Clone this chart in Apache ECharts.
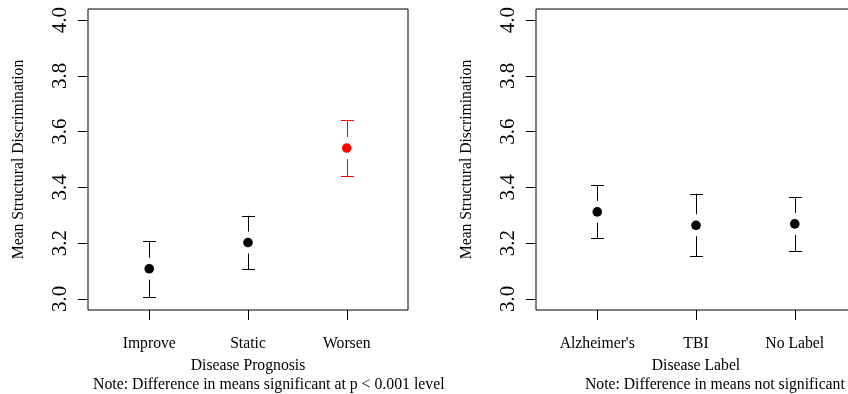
<!DOCTYPE html>
<html>
<head>
<meta charset="utf-8">
<script src="https://cdn.jsdelivr.net/npm/echarts@6/dist/echarts.min.js"></script>
<style>
html,body{margin:0;padding:0;background:#fff;}
#chart{width:848px;height:394px;}
</style>
</head>
<body>
<div id="chart"></div>
<script>
// ---- data ----
const leftCategories = ['Improve', 'Static', 'Worsen'];
const leftMeans = [3.108, 3.202, 3.541];
const leftLower = [3.007, 3.107, 3.440];
const leftUpper = [3.208, 3.298, 3.640];

const rightCategories = ["Alzheimer's", 'TBI', 'No Label'];
const rightMeans = [3.312, 3.264, 3.269];
const rightLower = [3.218, 3.153, 3.172];
const rightUpper = [3.408, 3.377, 3.365];

const yTicks = [3.0, 3.2, 3.4, 3.6, 3.8, 4.0];

const leftXTitle = 'Disease Prognosis';
const rightXTitle = 'Disease Label';
const yTitle = 'Mean Structural Discrimination';
const leftNote = 'Note: Difference in means significant at p < 0.001 level';
const rightNote = 'Note: Difference in means not significant';

// ---- styles ----
const FONT = '"Liberation Serif", "Times New Roman", serif';
const FS = 15.7;
const leftColors = ['#000000', '#000000', '#ff0000'];
const rightColors = ['#000000', '#000000', '#000000'];

const chart = echarts.init(document.getElementById('chart'), null, {renderer: 'canvas'});

function xAxisFor(gridIndex, cats, title) {
  return {
    type: 'value', gridIndex: gridIndex, min: 0.38, max: 3.62,
    splitLine: {show: false},
    axisLine: {show: false},
    axisTick: {show: true, inside: false, length: 10, customValues: cats.map((c, i) => i + 1),
      lineStyle: {color: '#000', width: 1}},
    axisLabel: {show: true, customValues: cats.map((c, i) => i + 1), margin: 26,
      color: '#000', fontFamily: FONT, fontSize: FS,
      formatter: v => cats[Math.round(v) - 1] || ''},
    name: title, nameLocation: 'middle', nameGap: 48,
    nameTextStyle: {color: '#000', fontFamily: FONT, fontSize: FS}
  };
}
function yAxisFor(gridIndex) {
  return {
    type: 'value', gridIndex: gridIndex, min: 2.96, max: 4.04,
    splitLine: {show: false},
    axisLine: {show: false},
    axisTick: {show: true, length: 10, customValues: yTicks, lineStyle: {color: '#000', width: 1}},
    axisLabel: {show: true, customValues: yTicks, rotate: 90, margin: 17,
      color: '#000', fontFamily: FONT, fontSize: 21,
      formatter: v => Number(v).toFixed(1)},
    name: yTitle, nameLocation: 'middle', nameRotate: 90, nameGap: 61,
    nameTextStyle: {color: '#000', fontFamily: FONT, fontSize: FS}
  };
}

function errorSeries(idx, means, lower, upper, colors) {
  return {
    type: 'custom', xAxisIndex: idx, yAxisIndex: idx,
    data: means.map((m, i) => [i + 1, m, lower[i], upper[i], i]),
    encode: {x: 0, y: [1, 2, 3]},
    clip: false,
    renderItem: function (params, api) {
      const x = api.value(0);
      const pm = api.coord([x, api.value(1)]);
      const pl = api.coord([x, api.value(2)]);
      const pu = api.coord([x, api.value(3)]);
      const col = colors[api.value(4)];
      const gap = 11, half = 6.5;
      const cx = Math.round(pm[0]) + 0.5;
      const children = [];
      const style = {stroke: col, lineWidth: 1, fill: null};
      if (pm[1] - gap > pu[1]) {
        children.push({type: 'line', shape: {x1: cx, y1: pm[1] - gap, x2: cx, y2: pu[1]}, style: style});
      }
      children.push({type: 'line', shape: {x1: cx - half, y1: Math.round(pu[1]) + 0.5, x2: cx + half, y2: Math.round(pu[1]) + 0.5}, style: style});
      if (pm[1] + gap < pl[1]) {
        children.push({type: 'line', shape: {x1: cx, y1: pm[1] + gap, x2: cx, y2: pl[1]}, style: style});
      }
      children.push({type: 'line', shape: {x1: cx - half, y1: Math.round(pl[1]) + 0.5, x2: cx + half, y2: Math.round(pl[1]) + 0.5}, style: style});
      children.push({type: 'circle', shape: {cx: pm[0], cy: pm[1], r: 4.8}, style: {fill: col, stroke: null}});
      return {type: 'group', children: children};
    },
    silent: true, animation: false
  };
}

const option = {
  animation: false,
  backgroundColor: '#fff',
  grid: [
    {left: 88, top: 9, width: 320, height: 301, show: true, borderColor: '#000', borderWidth: 1,
     containLabel: false, outerBoundsMode: 'none'},
    {left: 536, top: 9, width: 320, height: 301, show: true, borderColor: '#000', borderWidth: 1,
     containLabel: false, outerBoundsMode: 'none'}
  ],
  xAxis: [xAxisFor(0, leftCategories, leftXTitle), xAxisFor(1, rightCategories, rightXTitle)],
  yAxis: [yAxisFor(0), yAxisFor(1)],
  series: [
    errorSeries(0, leftMeans, leftLower, leftUpper, leftColors),
    errorSeries(1, rightMeans, rightLower, rightUpper, rightColors)
  ],
  graphic: [
    {type: 'text', left: 93, top: 377, style: {text: leftNote, font: '15.8px ' + FONT, fill: '#000'}},
    {type: 'text', left: 585, top: 377, style: {text: rightNote, font: '15.7px ' + FONT, fill: '#000'}}
  ]
};
chart.setOption(option);
</script>
</body>
</html>
